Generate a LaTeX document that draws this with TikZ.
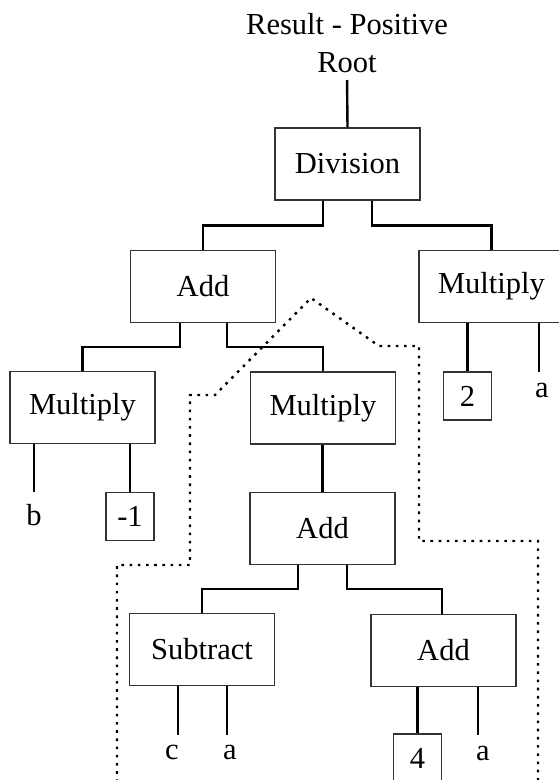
\documentclass[tikz,border=0pt]{standalone}
\usepackage{fontspec}
\setmainfont{Liberation Serif}
\begin{document}
\begin{tikzpicture}[x=1pt, y=-1pt,
  every node/.style={font=\fontsize{30.5}{38}\selectfont, inner sep=0pt},
  opbox/.style={draw=black!80, line width=1.3pt, minimum width=145pt, minimum height=72pt},
  numbox/.style={draw=black!80, line width=1.3pt, minimum width=48pt, minimum height=48pt},
  wire/.style={line width=2.4pt, black},
  region/.style={line width=2.4pt, black, dash pattern=on 2.6pt off 5.6pt}
]
\useasboundingbox (0,0) rectangle (559,780);

% title
\node[align=center, anchor=south] (title) at (347,73) {Result - Positive\\Root};

% operator boxes
\node[opbox] (div)  at (347.5,164)   {Division};
\node[opbox] (add1) at (203,286.5)   {Add};
\node[opbox] (mulr) at (491.5,286.5) {Multiply};
\node[opbox] (mull) at (82.5,407.5)  {Multiply};
\node[opbox] (mulm) at (323,408)     {Multiply};
\node[opbox] (add2) at (322.5,528.5) {Add};
\node[opbox] (sub)  at (202,649.5)   {Subtract};
\node[opbox] (add3) at (443.5,650.5) {Add};

% constant boxes
\node[numbox] (mone) at (130,516.5)  {-1};
\node[numbox] (two)  at (467.5,396)  {2};
\node[numbox] (four) at (417.5,758)  {4};

% variable leaves
\node[anchor=base] (vb)  at (34,525)  {b};
\node[anchor=base] (va1) at (542,397) {a};
\node[anchor=base] (vc)  at (172,759) {c};
\node[anchor=base] (va2) at (230,759) {a};
\node[anchor=base] (va3) at (483,760) {a};

% leaf wire ends
\coordinate (eb)  at (34,492);
\coordinate (ea1) at (539,372);
\coordinate (ec)  at (178,735);
\coordinate (ea2) at (227,735);
\coordinate (ea3) at (478,735);

% tree connectors
\draw[wire, shorten <=7pt] (title.south) -- (div.north);
\draw[wire] (div.south -| 323,0) -- ++(0,25) -| (add1.north);
\draw[wire] (div.south -| 372,0) -- ++(0,25) -| (mulr.north);
\draw[wire] (add1.south -| 180,0) -- ++(0,24) -| (mull.north);
\draw[wire] (add1.south -| 227,0) -- ++(0,24) -| (mulm.north);
\draw[wire] (mulm.south -| add2.north) -- (add2.north);
\draw[wire] (add2.south -| 298,0) -- ++(0,24) -| (sub.north);
\draw[wire] (add2.south -| 347,0) -- ++(0,24) -| (442,614);
\draw[wire] (mull.south -| mone.north) -- (mone.north);
\draw[wire] (mull.south -| eb) -- (eb);
\draw[wire] (mulr.south -| two.north) -- (two.north);
\draw[wire] (mulr.south -| ea1) -- (ea1);
\draw[wire] (sub.south -| ec) -- (ec);
\draw[wire] (sub.south -| ea2) -- (ea2);
\draw[wire] (add3.south -| four.north) -- (four.north);
\draw[wire] (add3.south -| ea3) -- (ea3);

% dotted outline of the sub-expression
\draw[region] (117,782) -- (117,565) -- (190,565) -- (190,395) -- (215,395)
  -- (311,298) -- (379,346) -- (419,346) -- (419,541) -- (538,541) -- (538,782);
\end{tikzpicture}
\end{document}
